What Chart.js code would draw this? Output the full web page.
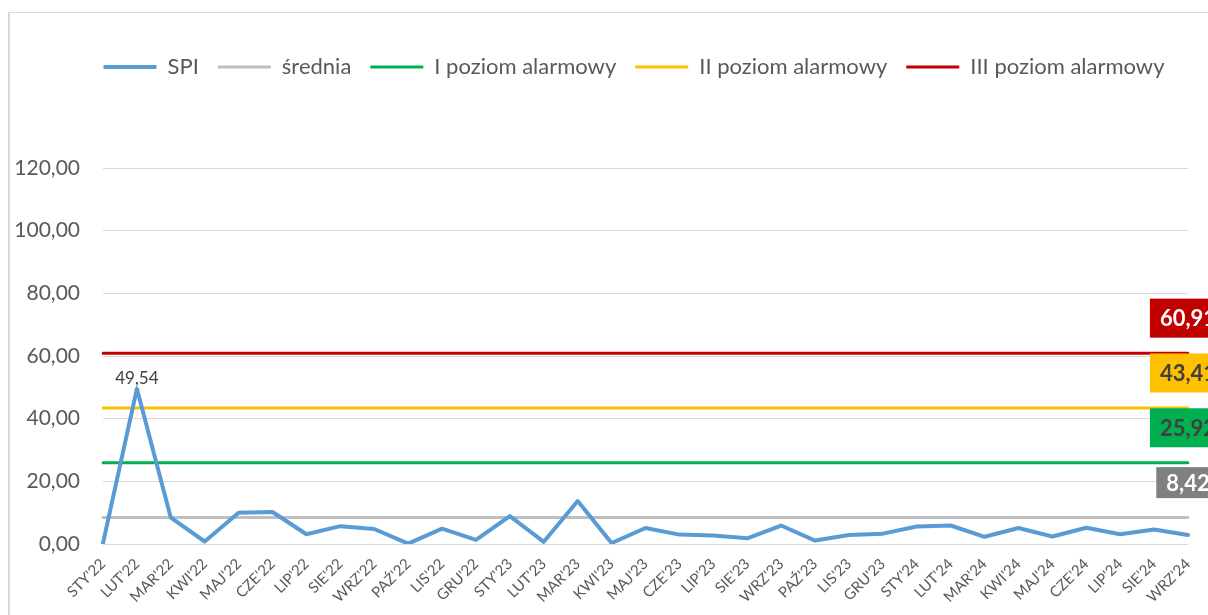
<!DOCTYPE html>
<html>
<head>
<meta charset="utf-8">
<script src="https://cdn.jsdelivr.net/npm/chart.js@4.4.1/dist/chart.umd.min.js"></script>
<style>
  html, body { margin: 0; padding: 0; background: #ffffff; }
  #ramka {
    position: absolute; left: 8px; top: 12px; width: 1240px; height: 640px;
    border-top: 1px solid #d9d9d9; border-left: 2px solid #d9d9d9;
  }
  #kontener { position: relative; width: 1208px; height: 615px; }
</style>
</head>
<body>
<div id="ramka"></div>
<div id="kontener"><canvas id="wykresSPI"></canvas></div>
<script>
// --- dane ---
const miesiace = [
    "STY'22", "LUT'22", "MAR'22", "KWI'22", "MAJ'22", "CZE'22", "LIP'22", "SIE'22", "WRZ'22", "PAŹ'22", "LIS'22", "GRU'22",
    "STY'23", "LUT'23", "MAR'23", "KWI'23", "MAJ'23", "CZE'23", "LIP'23", "SIE'23", "WRZ'23", "PAŹ'23", "LIS'23", "GRU'23",
    "STY'24", "LUT'24", "MAR'24", "KWI'24", "MAJ'24", "CZE'24", "LIP'24", "SIE'24", "WRZ'24"
];

const wartosciSPI = [
    0.3, 49.54, 8.4, 0.8, 10.0, 10.2, 3.1, 5.7, 4.8, 0.1, 4.9, 1.3,
    8.9, 0.7, 13.7, 0.3, 5.1, 3.0, 2.7, 1.8, 5.9, 1.1, 2.9, 3.3,
    5.6, 5.9, 2.3, 5.1, 2.4, 5.2, 3.1, 4.6, 2.9
];

const srednia = 8.42;
const poziomI = 25.92;
const poziomII = 43.41;
const poziomIII = 60.91;

const osY = [0, 20, 40, 60, 80, 100, 120];

// stała linia na całej szerokości
const linia = (v) => miesiace.map(() => v);
const formatPL = (v) => v.toFixed(2).replace('.', ',');

Chart.defaults.font.family = 'Lato, "Open Sans", sans-serif';
Chart.defaults.color = '#595959';

// etykiety danych (49,54 i ramki na końcu linii alarmowych)
const etykietyPlugin = {
    id: 'etykiety',
    afterDatasetsDraw(chart) {
        const ctx = chart.ctx;
        ctx.save();

        // szczyt SPI
        const metaSPI = chart.getDatasetMeta(0);
        const iMax = wartosciSPI.indexOf(Math.max(...wartosciSPI));
        const p = metaSPI.data[iMax];
        ctx.font = '17px Lato, sans-serif';
        ctx.fillStyle = '#404040';
        ctx.textAlign = 'center';
        ctx.textBaseline = 'bottom';
        ctx.fillText(formatPL(wartosciSPI[iMax]), p.x, p.y - 2);

        // ramki z wartościami poziomów
        const ramki = [
            { ds: 1, tlo: '#808080', tekst: '#ffffff', h: 31 },
            { ds: 2, tlo: '#00b050', tekst: '#404040', h: 39 },
            { ds: 3, tlo: '#ffc000', tekst: '#404040', h: 39 },
            { ds: 4, tlo: '#c00000', tekst: '#ffffff', h: 39 }
        ];
        ctx.font = 'bold 22px Lato, sans-serif';
        ctx.textBaseline = 'middle';
        for (const r of ramki) {
            const meta = chart.getDatasetMeta(r.ds);
            const ostatni = meta.data[meta.data.length - 1];
            const v = chart.data.datasets[r.ds].data[meta.data.length - 1];
            const tekst = formatPL(v);
            const w = ctx.measureText(tekst).width + 20;
            const cy = ostatni.y - 35;
            ctx.fillStyle = r.tlo;
            ctx.fillRect(ostatni.x - w / 2, cy - r.h / 2, w, r.h);
            ctx.fillStyle = r.tekst;
            ctx.fillText(tekst, ostatni.x, cy + 1);
        }
        ctx.restore();
    }
};

// odstęp między legendą a wykresem + przesunięcie legendy w prawo
const ukladLegendy = {
    id: 'ukladLegendy',
    beforeInit(chart) {
        const fitOrig = chart.legend.fit;
        chart.legend.fit = function () {
            fitOrig.bind(chart.legend)();
            this.height = 131;
        };
    },
    afterLayout(chart) {
        chart.legend.left += 35;
        chart.legend.right += 35;
    }
};

const ctx = document.getElementById('wykresSPI').getContext('2d');

new Chart(ctx, {
    type: 'line',
    data: {
        labels: miesiace,
        datasets: [
            { label: 'SPI', data: wartosciSPI, borderColor: '#5b9bd5', backgroundColor: '#5b9bd5', borderWidth: 4 },
            { label: 'średnia', data: linia(srednia), borderColor: '#bfbfbf', backgroundColor: '#bfbfbf', borderWidth: 3 },
            { label: 'I poziom alarmowy', data: linia(poziomI), borderColor: '#00b050', backgroundColor: '#00b050', borderWidth: 3 },
            { label: 'II poziom alarmowy', data: linia(poziomII), borderColor: '#ffc000', backgroundColor: '#ffc000', borderWidth: 3 },
            { label: 'III poziom alarmowy', data: linia(poziomIII), borderColor: '#c00000', backgroundColor: '#c00000', borderWidth: 3 }
        ]
    },
    options: {
        responsive: true,
        maintainAspectRatio: false,
        animation: false,
        layout: { padding: { left: 10, right: 20, top: 37, bottom: 0 } },
        elements: {
            point: { radius: 0, hoverRadius: 0 },
            line: { tension: 0, borderJoinStyle: 'round', borderCapStyle: 'round' }
        },
        plugins: {
            tooltip: { enabled: false },
            legend: {
                position: 'top',
                labels: {
                    usePointStyle: true,
                    pointStyle: 'line',
                    pointStyleWidth: 53,
                    padding: 19,
                    color: '#595959',
                    font: { size: 22 }
                }
            }
        },
        scales: {
            x: {
                grid: { display: false },
                border: { display: false },
                ticks: {
                    autoSkip: false,
                    minRotation: 45,
                    maxRotation: 45,
                    padding: 3,
                    color: '#595959',
                    font: { size: 15 }
                },
                afterFit(scale) { scale.height = 71; }
            },
            y: {
                min: 0,
                max: 120,
                afterBuildTicks(scale) { scale.ticks = osY.map(v => ({ value: v })); },
                grid: { color: '#d9d9d9', lineWidth: 1, drawTicks: false },
                border: { display: false },
                ticks: {
                    padding: 23,
                    color: '#595959',
                    font: { size: 21 },
                    callback: (v) => formatPL(v)
                },
                afterFit(scale) { scale.width = 93; }
            }
        }
    },
    plugins: [ukladLegendy, etykietyPlugin]
});
</script>
</body>
</html>
